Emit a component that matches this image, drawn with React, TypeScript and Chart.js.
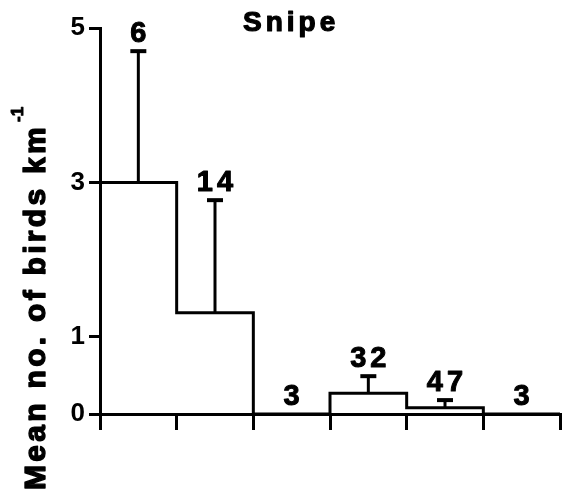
import { useEffect, useRef } from "react";
import { Chart, registerables } from "chart.js";

Chart.register(...registerables);

// Bin edges along the x axis (6 bins)
const binEdges = [0, 1, 2, 3, 4, 5, 6];
// Mean no. of birds per km in each bin
const means = [3, 1.31, 0, 0.27, 0.08, 0];
// Upper end of the error bar in each bin (null = none)
const errorTops: (number | null)[] = [4.7, 2.77, null, 0.49, 0.18, null];
// Sample sizes written above each bin
const counts = ["6", "14", "3", "32", "47", "3"];
// Y-axis tick values
const yTicks = [0, 1, 3, 5];
const chartTitle = "Snipe";
const yTitle = "Mean no. of birds km";
const yTitleSup = "-1";

const FONT = "'Liberation Sans', Arial, Helvetica, sans-serif";

export default function App() {
  const ref = useRef<HTMLCanvasElement | null>(null);

  useEffect(() => {
    if (!ref.current) return;

    const stepData = binEdges.map((x, i) => ({ x, y: i < means.length ? means[i] : 0 }));

    const heavyText = (ctx: CanvasRenderingContext2D, t: string, x: number, y: number, sw: number) => {
      ctx.lineWidth = sw;
      ctx.lineJoin = "round";
      ctx.strokeText(t, x, y);
      ctx.fillText(t, x, y);
    };

    const overlay = {
      id: "overlay",
      afterDatasetsDraw(chart: any) {
        const ctx = chart.ctx as CanvasRenderingContext2D;
        const xs = chart.scales.x;
        const ys = chart.scales.y;
        ctx.save();
        ctx.strokeStyle = "#000";
        ctx.fillStyle = "#000";
        ctx.lineCap = "butt";
        // error bars
        means.forEach((m, i) => {
          const top = errorTops[i];
          if (top == null) return;
          const cx = xs.getPixelForValue(binEdges[i] + 0.5);
          const y0 = ys.getPixelForValue(m);
          const y1 = ys.getPixelForValue(top);
          ctx.lineWidth = 3;
          ctx.beginPath();
          ctx.moveTo(cx, y0);
          ctx.lineTo(cx, y1);
          ctx.stroke();
          ctx.lineWidth = 4;
          ctx.beginPath();
          ctx.moveTo(cx - 8, y1);
          ctx.lineTo(cx + 8, y1);
          ctx.stroke();
        });
        // counts
        ctx.font = `bold 29px ${FONT}`;
        (ctx as any).letterSpacing = "4px";
        ctx.textAlign = "center";
        ctx.textBaseline = "alphabetic";
        counts.forEach((c, i) => {
          const top = errorTops[i] ?? means[i];
          const cx = xs.getPixelForValue(binEdges[i] + 0.5) + 2;
          const y = ys.getPixelForValue(top) - 9;
          heavyText(ctx, c, cx, y, 1);
        });
        // title
        ctx.font = `bold 28px ${FONT}`;
        (ctx as any).letterSpacing = "4px";
        ctx.textAlign = "left";
        heavyText(ctx, chartTitle, 243, 31, 1.2);
        // y title (rotated)
        ctx.translate(45, 490);
        ctx.rotate(-Math.PI / 2);
        ctx.font = `bold 30px ${FONT}`;
        (ctx as any).letterSpacing = "3.3px";
        ctx.textAlign = "left";
        heavyText(ctx, yTitle, 0, 0, 1.4);
        const w = ctx.measureText(yTitle).width;
        ctx.font = `bold 17px ${FONT}`;
        (ctx as any).letterSpacing = "0px";
        heavyText(ctx, yTitleSup, w + 2, -22, 1);
        ctx.restore();
      },
    };

    const chart = new Chart(ref.current, {
      type: "line",
      data: {
        datasets: [
          {
            data: stepData,
            stepped: "before",
            borderColor: "#000",
            borderWidth: 3,
            pointRadius: 0,
            fill: false,
          },
        ],
      },
      options: {
        animation: false,
        responsive: false,
        layout: { padding: { top: 28, right: 2, left: 0, bottom: 0 } },
        plugins: { legend: { display: false }, tooltip: { enabled: false }, title: { display: false } },
        scales: {
          x: {
            type: "linear",
            min: 0,
            max: 6,
            afterBuildTicks: (s: any) => {
              s.ticks = binEdges.map((v) => ({ value: v }));
            },
            afterFit: (s: any) => {
              s.height = 82;
            },
            ticks: { display: false },
            grid: { drawOnChartArea: false, color: "#000", lineWidth: 3, tickLength: 16 },
            border: { color: "#000", width: 3 },
          },
          y: {
            type: "linear",
            min: 0,
            max: 5,
            afterBuildTicks: (s: any) => {
              s.ticks = yTicks.map((v) => ({ value: v }));
            },
            afterFit: (s: any) => {
              s.width = 100;
            },
            ticks: {
              color: "#000",
              font: { family: FONT, size: 26, weight: "bold" },
              padding: 4,
            },
            grid: { drawOnChartArea: false, color: "#000", lineWidth: 3, tickLength: 11 },
            border: { color: "#000", width: 3 },
          },
        },
      },
      plugins: [overlay],
    } as any);

    return () => chart.destroy();
  }, []);

  return (
    <div style={{ position: "absolute", left: 0, top: 0, width: 562, height: 496, background: "#fff" }}>
      <canvas ref={ref} width={562} height={496} style={{ width: 562, height: 496 }} />
    </div>
  );
}
